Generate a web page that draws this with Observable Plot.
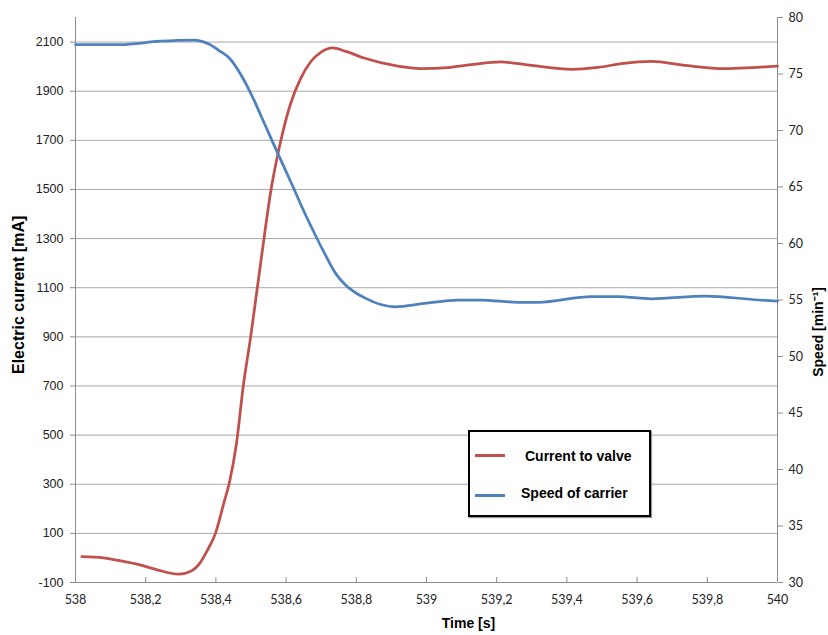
<!DOCTYPE html>
<html><head><meta charset="utf-8">
<script src="https://cdn.jsdelivr.net/npm/d3@7"></script>
<script src="https://cdn.jsdelivr.net/npm/@observablehq/plot@0.6"></script>
<style>
body{margin:0;background:#fff;font-family:"Liberation Sans",Arial,sans-serif;}
#wrap{position:relative;width:828px;height:635px;}
#legend{position:absolute;left:468px;top:430px;width:179px;height:83px;border:2px solid #000;background:#fff;box-shadow:1px 1px 1px #999;}
.sw{position:absolute;left:5px;width:30px;height:3px;}
.lt{position:absolute;font:bold 14px "Liberation Sans",Arial,sans-serif;line-height:16px;color:#000;white-space:nowrap;}
</style></head>
<body><div id="wrap"></div>
<script>
// ---- data ----
const currentTime = [538.018,538.079,538.118,538.194,538.241,538.294,538.327,538.356,538.375,538.399,538.422,538.439,538.459,538.478,538.499,538.518,538.537,538.556,538.573,538.59,538.613,538.641,538.67,538.699,538.732,538.77,538.822,538.918,538.984,539.061,539.127,539.213,539.299,539.413,539.489,539.556,539.641,539.736,539.85,539.927,540.0];
const currentValue = [5,0,-9,-32,-52,-66,-55,-18,29,101,220,310,470,700,900,1100,1300,1490,1620,1730,1850,1950,2020,2058,2076,2062,2035,2002,1992,1996,2008,2019,2005,1989,1997,2012,2021,2005,1992,1996,2002];
const speedTime = [538.0,538.127,538.241,538.337,538.38,538.41,538.44,538.47,538.5,538.53,538.56,538.59,538.62,538.65,538.68,538.71,538.74,538.77,538.8,538.83,538.87,538.91,538.994,539.089,539.156,539.261,539.318,539.47,539.546,539.641,539.794,539.946,540.0];
const speedValue = [77.6,77.6,77.9,78.0,77.65,77.05,76.35,75.0,73.25,71.2,69.1,67.05,65.0,62.9,60.95,59.1,57.4,56.3,55.6,55.1,54.6,54.4,54.7,55.0,55.0,54.8,54.8,55.3,55.3,55.1,55.35,55.0,54.9];
const xTicks = [538,538.2,538.4,538.6,538.8,539,539.2,539.4,539.6,539.8,540];
const currentTicks = [-100,100,300,500,700,900,1100,1300,1500,1700,1900,2100];
const speedTicks = [30,35,40,45,50,55,60,65,70,75,80];
const currentDomain = [-100,2200];
const speedDomain = [30,80];
const seriesNames = ["Current to valve","Speed of carrier"];
const colors = ["#C0504D","#4F81BD"];

// map speed onto the current (left) scale
const k = (currentDomain[1]-currentDomain[0])/(speedDomain[1]-speedDomain[0]);
const toLeft = s => currentDomain[0] + (s - speedDomain[0]) * k;
const fromLeft = v => String(Math.round((v - currentDomain[0]) / k + speedDomain[0]));

const currentData = currentTime.map((t,i)=>({t, v: currentValue[i]}));
const speedData = speedTime.map((t,i)=>({t, v: toLeft(speedValue[i])}));
const fmtX = d => String(+d.toFixed(1)).replace(".", ",");
const fmtY = d => String(d);

const calib = "Lato, 'Liberation Sans', sans-serif";
const plot = Plot.plot({
  width: 828, height: 635,
  marginLeft: 75, marginRight: 51, marginTop: 17, marginBottom: 53,
  style: {fontFamily: "'Liberation Sans', Arial, sans-serif", fontSize: "12px", background: "white", color: "#222"},
  x: {domain: [538, 540]},
  y: {domain: currentDomain},
  marks: [
    Plot.gridY(currentTicks, {stroke: "#a8a8a8", strokeOpacity: 1}),
    Plot.ruleX([538, 540], {stroke: "#8c8c8c"}),
    Plot.ruleY([currentDomain[0]], {stroke: "#8c8c8c"}),
    Plot.axisY(currentTicks, {anchor: "left", tickSize: 5, tickPadding: 7, tickFormat: fmtY, stroke: "#8c8c8c", fill: "#222", label: null, fontSize: 12.5}),
    Plot.axisY(speedTicks.map(toLeft), {anchor: "right", tickSize: 5, tickPadding: 6, tickFormat: fromLeft, stroke: "#8c8c8c", fill: "#222", label: null, fontFamily: calib, fontSize: 12.5}),
    Plot.axisX(xTicks, {anchor: "bottom", tickSize: -5, tickPadding: 18, tickFormat: fmtX, stroke: "#8c8c8c", fill: "#222", label: null, fontFamily: calib, fontSize: 12.5}),
    Plot.line(currentData, {x: "t", y: "v", stroke: colors[0], strokeWidth: 2.75, curve: "monotone-x"}),
    Plot.line(speedData, {x: "t", y: "v", stroke: colors[1], strokeWidth: 2.75, curve: "monotone-x"}),
    Plot.text(["Electric current [mA]"], {frameAnchor: "left", rotate: -90, dx: -57, dy: 74, fontWeight: "bold", fontSize: 16, fill: "#000"}),
    Plot.text(["Speed [min⁻¹]"], {frameAnchor: "right", rotate: -90, dx: 41, dy: -13, fontWeight: "bold", fontSize: 14, fill: "#000"}),
    Plot.text(["Time [s]"], {frameAnchor: "bottom", dx: 42, dy: 45, fontWeight: "bold", fontSize: 14, fill: "#000"})
  ]
});
const wrap = document.getElementById("wrap");
wrap.appendChild(plot);

const leg = document.createElement("div");
leg.id = "legend";
leg.innerHTML = `
 <div class="sw" style="top:22px;background:${colors[0]}"></div>
 <div class="lt" style="left:55px;top:16px">${seriesNames[0]}</div>
 <div class="sw" style="top:62px;background:${colors[1]}"></div>
 <div class="lt" style="left:51px;top:53px">${seriesNames[1]}</div>`;
wrap.appendChild(leg);
</script>
</body></html>
